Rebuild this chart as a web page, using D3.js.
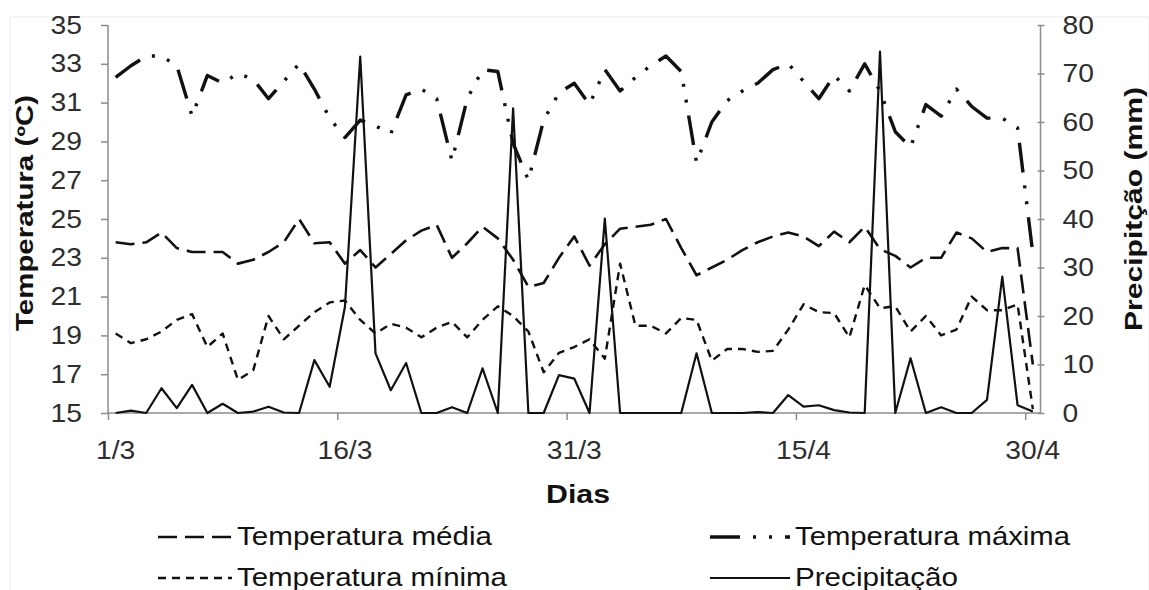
<!DOCTYPE html>
<html><head><meta charset="utf-8">
<script src="https://cdn.jsdelivr.net/npm/d3@7"></script>
<style>
html,body{margin:0;padding:0;background:#fff;}
text{font-family:"Liberation Sans",Arial,sans-serif;}
</style></head>
<body><svg id="c" width="1149" height="590"></svg>
<script>
// ---- data ----
const days = (function(){const a=[];for(let d=1;d<=31;d++)a.push(d+"/3");for(let d=1;d<=30;d++)a.push(d+"/4");return a;})();
const tickLabels = ["1/3","16/3","31/3","15/4","30/4"];
const tMax = [32.3,32.9,33.4,33.4,32.9,30.3,32.4,32.0,32.5,32.2,31.2,32.1,33.0,31.7,30.2,29.2,30.1,29.8,29.4,31.4,31.7,31.2,28.0,31.2,32.7,32.6,28.9,27.0,30.1,31.5,32.0,30.9,32.7,31.6,32.3,32.9,33.4,32.6,27.9,30.0,31.1,31.6,32.0,32.7,33.0,32.1,31.2,32.4,31.6,33.0,31.6,29.5,28.7,30.9,30.3,31.7,30.8,30.2,30.2,29.7,23.2];
const tMed = [23.8,23.7,23.8,24.3,23.5,23.3,23.3,23.3,22.7,22.9,23.3,23.8,25.0,23.75,23.8,22.7,23.4,22.5,23.2,23.9,24.4,24.7,23.0,23.75,24.6,24.0,22.9,21.5,21.7,23.0,24.1,22.6,23.7,24.5,24.6,24.7,25.0,23.5,22.1,22.5,22.9,23.4,23.8,24.1,24.3,24.1,23.6,24.35,23.8,24.6,23.45,23.1,22.5,23.0,23.0,24.3,24.0,23.3,23.5,23.5,17.5];
const tMin = [19.1,18.6,18.8,19.2,19.8,20.1,18.4,19.1,16.7,17.2,20.0,18.8,19.5,20.2,20.7,20.8,19.8,19.1,19.6,19.4,18.9,19.4,19.7,18.9,19.8,20.5,20.0,19.2,17.1,18.1,18.4,18.8,17.8,22.7,19.5,19.5,19.1,19.9,19.8,17.7,18.3,18.3,18.15,18.2,19.3,20.6,20.2,20.15,18.9,21.6,20.4,20.5,19.2,20.0,19.0,19.3,21.0,20.3,20.3,20.6,15.2];
const precip = [0,0.5,0,5.1,1.0,5.8,0,1.9,0,0.3,1.3,0.1,0,10.9,5.4,21.9,73.5,12.3,4.7,10.3,0,0,1.2,0,9.2,0,62.8,0,0,7.8,7.1,0,40.1,0,0,0,0,0,12.3,0,0,0,0.2,0,3.7,1.3,1.6,0.6,0.1,0,74.5,0,11.3,0,1.2,0,0,2.7,28.1,1.6,0.3];
const leftTicks = [15,17,19,21,23,25,27,29,31,33,35];
const rightTicks = [0,10,20,30,40,50,60,70,80];
const seriesNames = ["Temperatura média","Temperatura máxima","Temperatura mínima","Precipitação"];

// ---- layout ----
const L=108, R=1040.5, T=25, B=413;
const svg=d3.select("#c");
const x=d3.scaleLinear().domain([-0.5,days.length-0.5]).range([L,R]);
const yT=d3.scaleLinear().domain([15,35]).range([B,T]);
const yP=d3.scaleLinear().domain([0,80]).range([B,T]);
const axisCol="#8c8c8c", txtCol="#2e2e2e";

function stretch(sel,f){sel.each(function(){const w=this.getComputedTextLength();d3.select(this).attr("textLength",w*f).attr("lengthAdjust","spacingAndGlyphs");});}

// faint chart border
svg.append("rect").attr("x",10).attr("y",17).attr("width",1139).attr("height",600).attr("fill","none").attr("stroke","#ececec").attr("stroke-width",1);

// left axis
const gl=svg.append("g").attr("transform",`translate(${L},0)`).call(d3.axisLeft(yT).tickValues(leftTicks).tickSize(7).tickPadding(19));
// right axis
const gr=svg.append("g").attr("transform",`translate(${R},0)`).call(d3.axisRight(yP).tickValues(rightTicks).tickSize(4).tickPadding(18));
gr.selectAll(".tick line").attr("x1",-3);
// bottom axis
const tickIdx=tickLabels.map(l=>days.indexOf(l));
const gb=svg.append("g").attr("transform",`translate(0,${B})`).call(d3.axisBottom(x).tickValues(tickIdx.map(i=>i-0.5)).tickSize(7).tickFormat(""));
[gl,gr,gb].forEach(g=>{g.select(".domain").attr("stroke",axisCol).attr("stroke-width",1.5);g.selectAll(".tick line").attr("stroke",axisCol).attr("stroke-width",1.5);
  g.selectAll(".tick text").attr("fill",txtCol).style("font-size","25px").style("font-family","Liberation Sans, Arial, sans-serif");});
gl.select(".domain").attr("d",`M0,${T}V${B}`);
gr.select(".domain").attr("d",`M0,${T}V${B}`);
gb.select(".domain").attr("d",`M${L},0H${R}`);
stretch(gl.selectAll(".tick text"),1.13);
stretch(gr.selectAll(".tick text"),1.13);
svg.append("g").selectAll("text").data(tickLabels).join("text")
  .attr("x",d=>x(days.indexOf(d))).attr("y",B+46).attr("text-anchor","middle")
  .attr("fill",txtCol).style("font-size","25px").text(d=>d).call(s=>stretch(s,1.13));

// axis titles
svg.append("text").attr("transform",`translate(33,${(T+B)/2-6}) rotate(-90)`).attr("text-anchor","middle")
  .style("font-size","23px").style("font-weight","bold").attr("fill","#111").text("Temperatura (ºC)")
  .attr("textLength",236).attr("lengthAdjust","spacingAndGlyphs");
svg.append("text").attr("transform",`translate(1142,${(T+B)/2-10}) rotate(-90)`).attr("text-anchor","middle")
  .style("font-size","23px").style("font-weight","bold").attr("fill","#111").text("Precipitção (mm)")
  .attr("textLength",244).attr("lengthAdjust","spacingAndGlyphs");
svg.append("text").attr("x",578).attr("y",503).attr("text-anchor","middle")
  .style("font-size","25px").style("font-weight","bold").attr("fill","#111").text("Dias")
  .attr("textLength",64).attr("lengthAdjust","spacingAndGlyphs");

// lines
const styles=[
  {data:tMed,y:yT,dash:"19,8",w:2.6},
  {data:tMax,y:yT,dash:"30,13,3,13,3,13",w:3.4},
  {data:tMin,y:yT,dash:"8,6",w:2.4},
  {data:precip,y:yP,dash:null,w:2.2}
];
styles.forEach(s=>{
  const line=d3.line().x((d,i)=>x(i)).y(d=>s.y(d));
  svg.append("path").datum(s.data).attr("d",line).attr("fill","none").attr("stroke","#111")
    .attr("stroke-width",s.w).attr("stroke-dasharray",s.dash).attr("stroke-linejoin","round");
});

// legend
const legPos=[{x:158,y:537},{x:710,y:537},{x:158,y:578},{x:710,y:578}];
const legW=[74,80,74,80];
const legTW=[255,275,270,163];
seriesNames.forEach((n,k)=>{
  const p=legPos[k], s=styles[k];
  svg.append("line").attr("x1",p.x).attr("x2",p.x+legW[k]).attr("y1",p.y).attr("y2",p.y)
    .attr("stroke","#111").attr("stroke-width",s.w).attr("stroke-dasharray",s.dash);
  svg.append("text").attr("x",p.x+legW[k]+5).attr("y",p.y+8).style("font-size","25px").attr("fill","#111")
    .text(n).attr("textLength",legTW[k]).attr("lengthAdjust","spacingAndGlyphs");
});
</script></body></html>
